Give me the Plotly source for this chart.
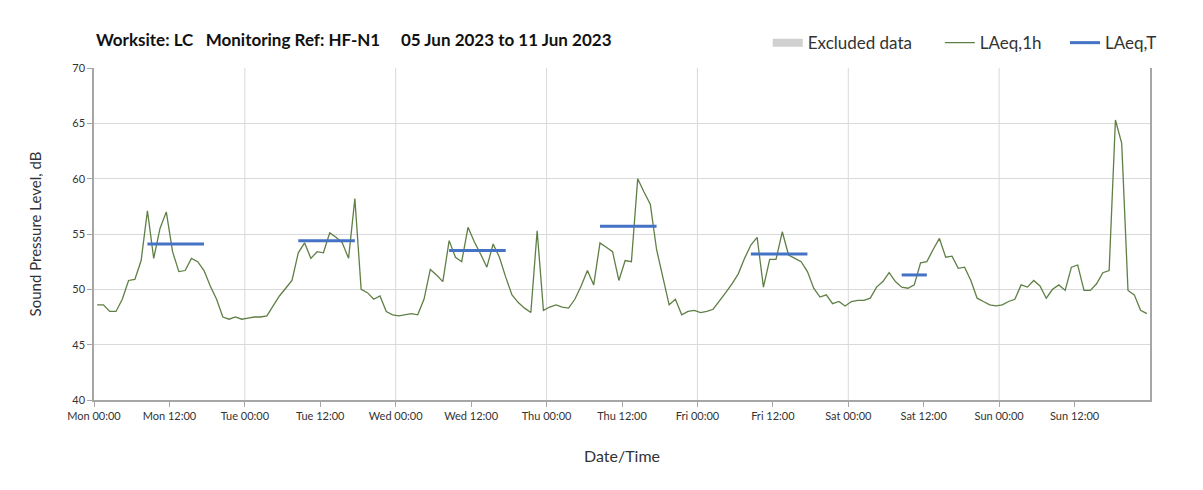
import pandas as pd
import plotly.graph_objects as go

# hourly LAeq values, Mon 05 Jun 2023 00:00 .. Sun 11 Jun 2023 23:00
laeq_1h = [
    48.6, 48.6, 48.0, 48.0, 49.1, 50.8, 50.9, 52.6, 57.1, 52.8, 55.5, 57.0,
    53.4, 51.6, 51.7, 52.8, 52.5, 51.7, 50.3, 49.1, 47.5, 47.3, 47.5, 47.3,
    47.4, 47.5, 47.5, 47.6, 48.5, 49.4, 50.1, 50.8, 53.3, 54.2, 52.8, 53.4,
    53.3, 55.1, 54.7, 54.2, 52.8, 58.2, 50.0, 49.7, 49.1, 49.4, 48.0, 47.7,
    47.6, 47.7, 47.8, 47.7, 49.1, 51.8, 51.3, 50.7, 54.4, 52.9, 52.5, 55.6,
    54.3, 53.2, 52.0, 54.1, 52.9, 51.1, 49.5, 48.8, 48.3, 47.9, 55.3, 48.1,
    48.4, 48.6, 48.4, 48.3, 49.1, 50.3, 51.7, 50.4, 54.2, 53.8, 53.4, 50.8,
    52.6, 52.5, 60.0, 58.8, 57.7, 53.6, 51.0, 48.6, 49.1, 47.7, 48.0, 48.1,
    47.9, 48.0, 48.2, 48.9, 49.7, 50.5, 51.4, 52.8, 54.0, 54.7, 50.2, 52.7,
    52.7, 55.2, 53.1, 52.8, 52.5, 51.6, 50.1, 49.3, 49.5, 48.7, 48.9, 48.5,
    48.9, 49.0, 49.0, 49.2, 50.2, 50.7, 51.5, 50.7, 50.2, 50.1, 50.4, 52.4,
    52.5, 53.6, 54.6, 52.9, 53.0, 51.9, 52.0, 50.8, 49.2, 48.9, 48.6, 48.5,
    48.6, 48.9, 49.1, 50.4, 50.2, 50.8, 50.3, 49.2, 50.0, 50.4, 49.9, 52.0,
    52.2, 49.9, 49.9, 50.5, 51.5, 51.7, 65.3, 63.2, 49.9, 49.5, 48.1, 47.8,
]
# points are drawn at the middle of each hour
times = pd.date_range("2023-06-05 00:30", periods=len(laeq_1h), freq="h")

# LAeq,T over the assessment periods
period_start = ["2023-06-05 08:30", "2023-06-06 08:30", "2023-06-07 08:30",
                "2023-06-08 08:30", "2023-06-09 08:30", "2023-06-10 08:30"]
period_end = ["2023-06-05 17:30", "2023-06-06 17:30", "2023-06-07 17:30",
              "2023-06-08 17:30", "2023-06-09 17:30", "2023-06-10 12:30"]
laeq_t = [54.1, 54.4, 53.5, 55.7, 53.2, 51.3]

# no excluded data this week
excluded_x = [None]
excluded_y = [None]

day_lines = pd.date_range("2023-06-06", "2023-06-11", freq="D")
tick_vals = pd.date_range("2023-06-05", "2023-06-11 12:00", freq="12h")
tick_text = [t.strftime("%a %H:%M") for t in tick_vals]

FONT = "Lato, 'Open Sans', sans-serif"
GREEN = "#5f7f45"
BLUE = "#4472c4"

fig = go.Figure()

fig.add_trace(go.Scatter(
    x=excluded_x, y=excluded_y, mode="lines", name="Excluded data",
    line=dict(color="#d0d0d0", width=8), legend="legend", showlegend=True,
))

fig.add_trace(go.Scatter(
    x=times, y=laeq_1h, mode="lines", name="LAeq,1h",
    line=dict(color=GREEN, width=1.3), legend="legend2", showlegend=True,
))

tx, ty = [], []
for s, e, v in zip(period_start, period_end, laeq_t):
    tx += [pd.Timestamp(s), pd.Timestamp(e), None]
    ty += [v, v, None]
fig.add_trace(go.Scatter(
    x=tx, y=ty, mode="lines", name="LAeq,T",
    line=dict(color=BLUE, width=3), legend="legend3", showlegend=True,
))

for d in day_lines:
    fig.add_shape(
        type="line", xref="x", yref="paper", x0=d, x1=d, y0=0, y1=1,
        line=dict(color="#d9d9d9", width=1), layer="below",
    )

fig.add_annotation(
    xref="paper", yref="paper", x=0.0, y=1.085,
    xanchor="left", yanchor="middle", showarrow=False,
    text="<b>Worksite: LC\u00a0\u00a0\u00a0Monitoring Ref: HF-N1"
         "\u00a0\u00a0\u00a0\u00a0\u00a005 Jun 2023 to 11 Jun 2023</b>",
    font=dict(family=FONT, size=17, color="#111111"),
)


def legend_box(x):
    return dict(
        orientation="h", x=x, xanchor="left", y=1.075, yanchor="middle",
        font=dict(size=17, color="#333333"), bgcolor="rgba(0,0,0,0)",
        visible=True,
    )


fig.update_layout(
    width=1187, height=474, showlegend=True,
    paper_bgcolor="white", plot_bgcolor="white",
    margin=dict(l=86, r=45, t=60, b=82, autoexpand=False),
    font=dict(family=FONT, size=11, color="#333333"),
    legend=legend_box(0.638),
    legend2=legend_box(0.801),
    legend3=legend_box(0.9195),
    xaxis=dict(
        type="date", automargin=False,
        range=["2023-06-05 00:00", "2023-06-12 00:00"],
        tickvals=tick_vals, ticktext=tick_text,
        showgrid=False, showline=True, linecolor="#a6a6a6", linewidth=1.5,
        ticks="outside", ticklen=5, tickcolor="#a6a6a6",
        tickfont=dict(size=11, color="#333333"),
        title=dict(text="Date/Time", font=dict(size=16, color="#333333"),
                   standoff=30),
    ),
    yaxis=dict(
        range=[40, 70], dtick=5, automargin=False,
        showgrid=True, gridcolor="#d9d9d9", gridwidth=1,
        showline=True, linecolor="#a6a6a6", linewidth=1.5, mirror=True,
        ticks="outside", ticklen=5, tickcolor="#a6a6a6",
        tickfont=dict(size=11, color="#333333"),
        zeroline=False,
        title=dict(text="Sound Pressure Level, dB",
                   font=dict(size=15, color="#333333"), standoff=27),
    ),
)

fig.write_html("out.html")
